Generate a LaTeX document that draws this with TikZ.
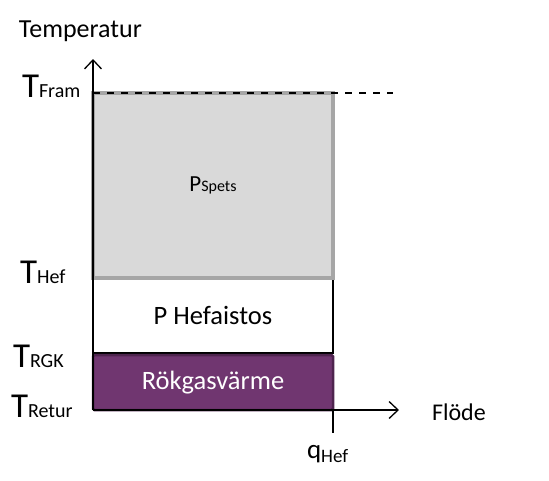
\documentclass[tikz,border=0pt]{standalone}
\usepackage{fontspec}
\setmainfont{Carlito}
\usetikzlibrary{arrows.meta, positioning}
\definecolor{spetsgray}{RGB}{217,217,217}
\definecolor{spetsedge}{RGB}{166,166,166}
\definecolor{rgkfill}{RGB}{112,54,112}
\definecolor{rgkedge}{RGB}{78,36,78}
\newcommand{\tlabel}[2]{{\fontsize{35}{35}\selectfont #1}{\fontsize{20}{20}\selectfont #2}}

\begin{document}
\begin{tikzpicture}[
        x=1pt, y=-1pt,
        >={Straight Barb[length=9pt, width=17pt]},
        every node/.style={inner sep=0pt, outer sep=0pt},
        box/.style={minimum width=240pt, anchor=north west, align=center},
        spets/.style={box, fill=spetsgray, draw=spetsedge, line width=3.5pt, minimum height=185pt},
        hef/.style={box, fill=white, draw=black, line width=1.2pt, minimum height=75pt},
        rgk/.style={box, fill=rgkfill, draw=rgkedge, line width=2.5pt, rounded corners=1.5pt, minimum height=55pt, text=white},
        axis/.style={->, line width=1.3pt},
        lbl/.style={anchor=base west, font=\fontsize{26}{26}\selectfont}
    ]
        \useasboundingbox (0,0) rectangle (549,480);

        % axes
        \coordinate (origin) at (93,410);
        \coordinate (ytip) at (93,59);
        \coordinate (xtip) at (399,410);
        \coordinate (qtick) at (333,433);

        % stacked boxes
        \node[hef] (hefaistos) at (93,278) {\fontsize{26.5}{26.5}\selectfont P Hefaistos};
        \node[rgk] (rgk) at (93,355) {\fontsize{26.5}{26.5}\selectfont Rökgasvärme};
        \node[spets] (spets) at (93,93) {{\fontsize{23}{23}\selectfont P}{\fontsize{16}{16}\selectfont Spets}};

        \draw[axis] (origin) -- (ytip);
        \draw[axis] (origin) -- (xtip);
        \draw[line width=2pt] (rgk.south east) -- (qtick);
        \draw[dashed, line width=1.5pt, dash pattern=on 7pt off 7pt] (spets.north west) -- ++(300,0) coordinate (framend);

        % labels
        \node[lbl] (temp) at (19,37) {Temperatur};
        \node[lbl, font=\fontsize{24}{24}\selectfont] (flode) at (432,420) {Flöde};
        \node[anchor=base west] (tfram) at (22,97) {\tlabel{T}{Fram}};
        \node[anchor=base west] (thef) at (20,283) {\tlabel{T}{Hef}};
        \node[anchor=base west] (trgk) at (13,367) {\tlabel{T}{RGK}};
        \node[anchor=base west] (tretur) at (11,417) {\tlabel{T}{Retur}};
        \node[anchor=base west] (qhef) at (307,458) {{\fontsize{27}{27}\selectfont q}\raisebox{-4pt}{\fontsize{19}{19}\selectfont Hef}};
    \end{tikzpicture}
\end{document}
